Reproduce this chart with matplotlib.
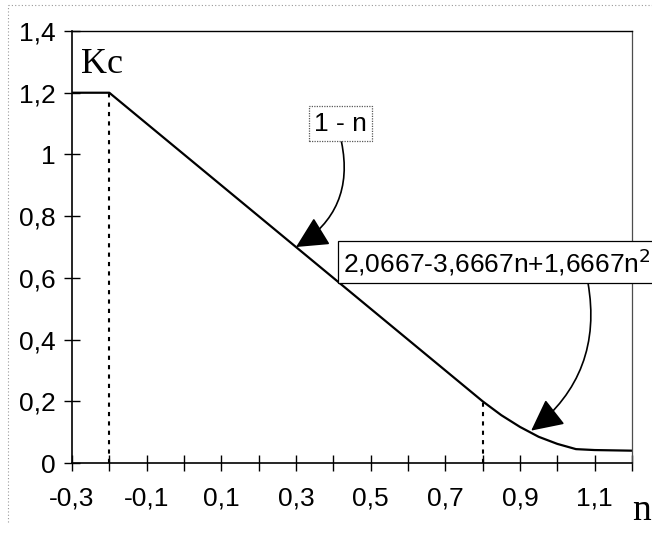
import matplotlib
matplotlib.use("Agg")
import matplotlib.pyplot as plt
from matplotlib.lines import Line2D

# Kc(n): plateau, linear part 1 - n, quadratic tail, plateau
n_vals = [-0.3, -0.2, 0.8, 0.85, 0.9, 0.95, 1.0, 1.05, 1.1, 1.2]
kc_vals = [1.2, 1.2, 0.2, 0.155, 0.117, 0.085, 0.062, 0.045, 0.042, 0.04]

# dotted markers at the breakpoints
break_n = [-0.2, 0.8]
break_kc = [1.2, 0.2]

x_ticks = [-0.3, -0.2, -0.1, 0.0, 0.1, 0.2, 0.3, 0.4, 0.5, 0.6, 0.7, 0.8, 0.9, 1.0, 1.1, 1.2]
x_labels = ["-0,3", "", "-0,1", "", "0,1", "", "0,3", "", "0,5", "", "0,7", "", "0,9", "", "1,1", ""]
y_ticks = [0, 0.2, 0.4, 0.6, 0.8, 1.0, 1.2, 1.4]
y_labels = ["0", "0,2", "0,4", "0,6", "0,8", "1", "1,2", "1,4"]

sans = "Liberation Sans"
serif = "Liberation Serif"

fig = plt.figure(figsize=(6.52, 5.33), dpi=100)
ax = fig.add_axes([0.1104, 0.1313, 0.8589, 0.8105])

ax.plot(n_vals, kc_vals, color="black", lw=1.6, solid_joinstyle="round")
ax.vlines(break_n, 0, break_kc, colors="black", linestyles=(0, (2, 2.5)), lw=1.5)

ax.set_xlim(-0.3, 1.2)
ax.set_ylim(0, 1.4)
ax.set_xticks(x_ticks)
ax.set_xticklabels(x_labels, fontsize=19, family=sans)
ax.set_yticks(y_ticks)
ax.set_yticklabels(y_labels, fontsize=19, family=sans)
ax.tick_params(axis="x", direction="inout", length=12, width=1, pad=11)
ax.tick_params(axis="y", direction="inout", length=12, width=1, pad=6)

for side in ("left", "bottom"):
    ax.spines[side].set_linewidth(1.2)
ax.spines["top"].set_linewidth(1.0)
ax.spines["right"].set_linewidth(0.9)
ax.spines["right"].set_color("0.3")

# axis names
ax.text(-0.275, 1.265, "Kc", fontsize=26, family=serif, ha="left", va="baseline")
fig.text(632 / 652, 1 - 520 / 533, "n", fontsize=27, family=serif, ha="left", va="baseline")

# curve labels with arrows
ax.text(0.419, 1.10, "1 - n", fontsize=19, family=sans, ha="center", va="center",
        bbox=dict(boxstyle="square,pad=0.2", fc="white", ec="0.35", lw=0.9, ls=(0, (1, 1))))
ax.annotate("", xy=(0.30, 0.70), xytext=(0.422, 1.04),
            arrowprops=dict(arrowstyle="-|>,head_length=0.9,head_width=0.45", color="black",
                            lw=1.2, mutation_scale=22, shrinkA=0, shrinkB=0,
                            connectionstyle="arc3,rad=-0.35"))

ax.text(0.426, 0.652, "2,0667-3,6667n+1,6667n$^{2}$", fontsize=19, family=sans,
        ha="left", va="center", zorder=5,
        bbox=dict(boxstyle="square,pad=0.2", fc="white", ec="black", lw=0.9))
ax.annotate("", xy=(0.93, 0.105), xytext=(1.082, 0.585),
            arrowprops=dict(arrowstyle="-|>,head_length=0.9,head_width=0.45", color="black",
                            lw=1.2, mutation_scale=22, shrinkA=0, shrinkB=0,
                            connectionstyle="arc3,rad=-0.3"))

# faint dotted frame around the figure
fig.add_artist(Line2D([8 / 652, 8 / 652], [0.02, 1 - 5 / 533], transform=fig.transFigure,
                      color="0.6", lw=0.8, ls=(0, (1, 2))))
fig.add_artist(Line2D([8 / 652, 1.0], [1 - 5 / 533, 1 - 5 / 533], transform=fig.transFigure,
                      color="0.6", lw=0.8, ls=(0, (1, 2))))

fig.savefig("out.png", dpi=100)
